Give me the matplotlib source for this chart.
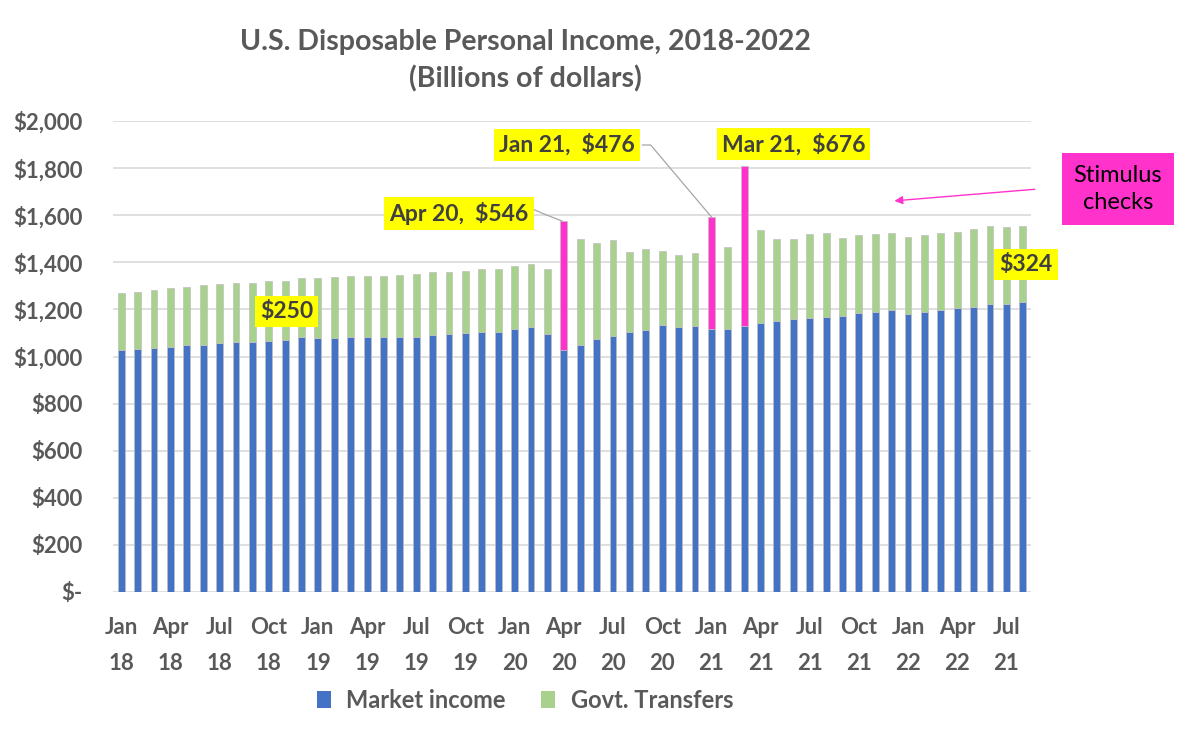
import matplotlib
matplotlib.use("Agg")
import matplotlib.pyplot as plt
import numpy as np
from matplotlib.patches import Patch

plt.rcParams['font.family'] = ['Lato', 'DejaVu Sans']

months = ["Jan 18","Feb 18","Mar 18","Apr 18","May 18","Jun 18","Jul 18","Aug 18","Sep 18","Oct 18","Nov 18","Dec 18",
          "Jan 19","Feb 19","Mar 19","Apr 19","May 19","Jun 19","Jul 19","Aug 19","Sep 19","Oct 19","Nov 19","Dec 19",
          "Jan 20","Feb 20","Mar 20","Apr 20","May 20","Jun 20","Jul 20","Aug 20","Sep 20","Oct 20","Nov 20","Dec 20",
          "Jan 21","Feb 21","Mar 21","Apr 21","May 21","Jun 21","Jul 21","Aug 21","Sep 21","Oct 21","Nov 21","Dec 21",
          "Jan 22","Feb 22","Mar 22","Apr 22","May 22","Jun 22","Jul 22","Aug 22"]

market_income = [1028, 1032, 1037, 1042, 1047, 1050, 1057, 1062, 1062, 1067, 1070, 1083,
                 1077, 1080, 1081, 1081, 1081, 1081, 1084, 1093, 1097, 1101, 1105, 1105,
                 1118, 1127, 1097, 1029, 1048, 1073, 1087, 1103, 1112, 1132, 1125, 1129,
                 1117, 1117, 1131, 1142, 1151, 1158, 1165, 1168, 1172, 1183, 1190, 1197,
                 1180, 1190, 1197, 1206, 1212, 1223, 1223, 1231]

govt_transfers = [243, 243, 245, 249, 247, 252, 249, 250, 250, 254, 251, 250,
                  256, 258, 261, 261, 261, 265, 266, 264, 263, 263, 267, 267,
                  268, 266, 275, 546, 451, 408, 409, 342, 344, 316, 306, 309,
                  476, 347, 676, 395, 347, 342, 354, 355, 331, 333, 332, 329,
                  329, 326, 329, 323, 329, 330, 325, 325]

stimulus_months = ["Apr 20", "Jan 21", "Mar 21"]

tick_labels = ["Jan\n18","Apr\n18","Jul\n18","Oct\n18","Jan\n19","Apr\n19","Jul\n19","Oct\n19",
               "Jan\n20","Apr\n20","Jul\n20","Oct\n20","Jan\n21","Apr\n21","Jul\n21","Oct\n21",
               "Jan\n22","Apr\n22","Jul\n21"]

BLUE = "#4472C4"
GREEN = "#A9D18E"
PINK = "#FF33CC"
GRAY = "#595959"
DARK = "#404040"

fig = plt.figure(figsize=(12, 7.37), dpi=100)
ax = fig.add_axes([113/1200, 1 - 592/737, (1031-113)/1200, (592-121)/737])

x = np.arange(len(months))
mi = np.array(market_income)
gt = np.array(govt_transfers)
top_colors = [PINK if m in stimulus_months else GREEN for m in months]

ax.bar(x, mi, width=0.42, color=BLUE, edgecolor="#bfbfbf", linewidth=0.5, zorder=3)
ax.bar(x, gt, bottom=mi, width=0.42, color=top_colors, edgecolor="#bfbfbf", linewidth=0.5, zorder=3)

ax.set_xlim(-0.5, len(months) - 0.5)
ax.set_ylim(0, 2000)
yt = np.arange(0, 2001, 200)
ax.set_yticks(yt)
ax.set_yticklabels(["$-"] + [f"${v:,}" for v in yt[1:]])
ax.set_xticks(x[::3])
ax.set_xticklabels(tick_labels, linespacing=1.9)
for lab in ax.get_xticklabels() + ax.get_yticklabels():
    lab.set_fontweight("bold")
    lab.set_color(GRAY)
    lab.set_fontsize(16)
ax.tick_params(axis="both", length=0)
ax.tick_params(axis="x", pad=18)
ax.tick_params(axis="y", pad=22)
ax.grid(axis="y", color="#d9d9d9", linewidth=1.2, zorder=0)
for s in ax.spines.values():
    s.set_visible(False)

fig.text(525/1200, 1 - 61/737, "U.S. Disposable Personal Income, 2018-2022\n(Billions of dollars)",
         ha="center", va="center", fontsize=20.5, fontweight="bold", color=GRAY, linespacing=1.45)

box = dict(boxstyle="square,pad=0.22", facecolor="#FFFF00", edgecolor="none")

def label(idx, val, text):
    ax.text(idx, val, text, ha="center", va="center", fontsize=16.5, fontweight="bold",
            color=DARK, bbox=box, zorder=5, clip_on=False)

label(10.1, 1193, "$250")
label(20.6, 1609, "Apr 20,  $546")
label(27.2, 1898, "Jan 21,  $476")
label(41.0, 1902, "Mar 21,  $676")
label(55.2, 1389, "$324")

# connector lines
i_apr = months.index("Apr 20")
i_jan = months.index("Jan 21")
ax.plot([25.1, 25.8, i_apr - 0.1], [1626, 1605, mi[i_apr] + gt[i_apr]], color="#a6a6a6", lw=0.9, zorder=4)
ax.plot([31.8, 32.3, i_jan], [1898, 1898, mi[i_jan] + gt[i_jan]], color="#a6a6a6", lw=0.9, zorder=4)

ax.text(60.8, 1711, "Stimulus\nchecks", ha="center", va="center", fontsize=17, color="black",
        linespacing=1.4,
        bbox=dict(boxstyle="square,pad=0.5", facecolor=PINK, edgecolor="none"), clip_on=False, zorder=5)
ax.annotate("", xy=(47.0, 1660), xytext=(55.9, 1711),
            arrowprops=dict(arrowstyle="-|>", color=PINK, lw=1.0, mutation_scale=12),
            annotation_clip=False)

handles = [Patch(facecolor=BLUE, edgecolor="none", label="Market income"),
           Patch(facecolor=GREEN, edgecolor="none", label="Govt. Transfers")]
leg = fig.legend(handles=handles, loc="center", bbox_to_anchor=(525/1200, 1 - 700/737), ncol=2,
                 frameon=False, handlelength=0.6, handleheight=0.75, columnspacing=1.5, handletextpad=0.65,
                 prop=dict(size=17, weight="bold"))
for t in leg.get_texts():
    t.set_color(GRAY)

fig.savefig("out.png", dpi=100)
